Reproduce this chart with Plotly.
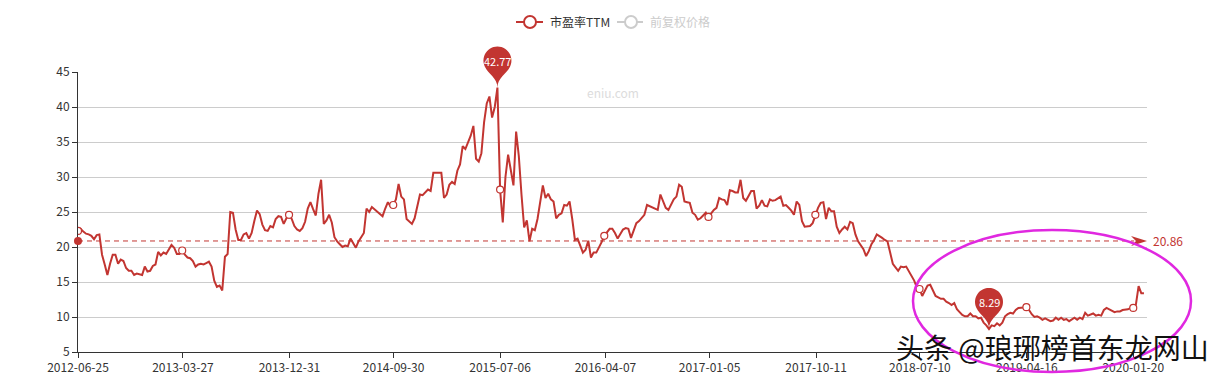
import math
import pandas as pd
import plotly.graph_objects as go

# ---------------- data (weekly samples) ----------------
start_date = "2012-06-25"
x_end = "2020-02-25"
y_min, y_max = 5, 45

pe_2012_2014 = [
    22.3, 22.6, 22.2, 21.9, 21.8, 21.6, 21.1, 21.7, 21.8, 18.9,
    17.5, 16.0, 17.6, 18.9, 18.9, 17.6, 18.2, 18.0, 17.0, 16.6,
    16.6, 16.0, 16.2, 16.1, 16.0, 17.2, 16.5, 16.6, 17.3, 17.5,
    19.3, 18.8, 19.2, 19.0, 19.6, 20.3, 19.9, 19.0, 19.0, 19.5,
    18.9, 18.5, 18.4, 18.0, 17.2, 17.5, 17.6, 17.5, 17.7, 17.9,
    17.2, 15.2, 14.3, 14.5, 13.8, 18.6, 19.0, 25.0, 24.9, 22.5,
    21.0, 21.0, 21.8, 22.0, 21.2, 22.0, 23.7, 25.2, 24.7, 23.2,
    22.4, 22.3, 23.0, 22.8, 24.0, 24.4, 24.3, 23.3, 24.1, 24.6,
    24.0, 23.0, 22.5, 22.3, 22.7, 23.6, 25.5, 26.4, 25.4, 24.5,
    27.6, 29.6, 23.3, 23.8, 24.6, 23.5, 21.4, 20.8, 20.4, 20.0,
    20.2, 20.1,
]
pe_2014_2016 = [
    21.2, 20.5, 19.9, 20.8, 21.4, 22.0, 25.5, 25.0, 25.7, 25.4,
    25.1, 24.8, 24.4, 25.5, 26.4, 25.8, 26.0, 26.8, 29.0, 27.2,
    26.8, 24.0, 23.6, 23.3, 24.1, 26.0, 27.5, 27.4, 27.8, 28.2,
    28.0, 30.6, 30.6, 30.6, 30.6, 27.0, 27.5, 28.9, 29.3, 29.0,
    30.9, 31.8, 34.4, 34.0, 35.0, 35.9, 37.3, 32.6, 32.2, 33.4,
    37.8, 40.5, 41.5, 38.5, 40.0, 42.77, 28.2, 23.5, 30.0, 33.2,
    31.0, 28.8, 36.5, 33.0, 27.5, 22.8, 23.8, 20.8, 22.6, 22.4,
    24.0, 26.5, 28.8, 27.0, 27.6, 26.8, 26.5, 24.1, 24.6, 24.8,
    26.0, 25.9, 26.5, 24.0, 21.0, 21.2, 20.2, 19.2, 19.6, 20.9,
    18.5, 19.2, 19.2, 19.9, 20.7, 21.6, 22.2, 22.6, 22.6, 22.0,
    21.2,
]
pe_2016_2018 = [
    21.8, 22.5, 22.7, 22.6, 21.3, 22.5, 23.4, 23.7, 24.2, 24.6,
    26.0, 25.8, 25.6, 25.5, 25.3, 27.5, 26.5, 25.6, 25.3, 26.0,
    26.8, 27.2, 28.9, 28.6, 26.5, 26.4, 26.3, 24.9, 24.6, 23.9,
    24.1, 24.5, 24.9, 24.3, 24.9, 25.3, 25.6, 27.0, 26.8, 26.7,
    26.0, 28.1, 28.0, 27.8, 27.8, 29.6, 27.0, 26.6, 27.3, 28.0,
    28.0, 25.5, 25.9, 26.7, 25.9, 25.8, 26.8, 26.6, 26.7, 27.0,
    27.2, 25.9, 26.0, 25.6, 25.2, 24.6, 26.5, 26.0, 23.7, 22.9,
    23.0, 23.0, 23.4, 24.6, 25.6, 26.3, 26.4, 24.0, 25.6, 25.1,
    25.1, 22.9, 22.0, 22.5, 22.9, 22.5, 23.6, 23.4, 21.8, 20.8,
    20.3, 19.7, 18.7, 19.4, 20.4, 21.0, 21.8, 21.6, 21.3,
]
pe_2018_2020 = [
    21.0, 20.8, 19.2, 17.6, 17.1, 16.6, 17.2, 17.1, 17.2, 16.5,
    15.7, 15.2, 14.2, 14.0, 13.0, 13.7, 14.5, 14.6, 13.7, 13.0,
    12.8, 12.6, 12.6, 12.2, 12.0, 11.7, 12.0, 11.1, 10.7, 10.3,
    10.1, 10.1, 10.5, 10.1, 10.1, 9.8, 9.9, 9.2, 8.8, 8.29,
    8.8, 8.7, 9.1, 8.8, 9.2, 10.1, 10.4, 10.6, 10.5, 11.0,
    11.3, 11.3, 11.3, 11.4, 11.0, 10.4, 10.0, 10.1, 9.9, 9.6,
    9.8, 9.6, 9.4, 9.5, 9.9, 9.6, 9.9, 9.6, 9.7, 9.4,
    9.6, 9.9, 9.6, 9.9, 9.7, 10.6, 10.2, 10.3, 10.5, 10.2,
    10.3, 10.2, 11.0, 11.3, 11.1, 10.8, 10.7, 10.8, 10.8, 11.0,
    11.0, 11.1, 11.3, 11.3, 11.8, 14.4, 13.4, 13.4,
]
pe_ttm = pe_2012_2014 + pe_2014_2016 + pe_2016_2018 + pe_2018_2020
dates = pd.date_range(start_date, periods=len(pe_ttm), freq="7D")

tick_labels = ["2012-06-25", "2013-03-27", "2013-12-31", "2014-09-30",
               "2015-07-06", "2016-04-07", "2017-01-05", "2017-10-11",
               "2018-07-10", "2019-04-16", "2020-01-20"]
avg_value = 20.86
series_names = ["市盈率TTM", "前复权价格"]
watermark = "eniu.com"
toutiao_text = "头条 @琅琊榜首东龙网山"

# ---------------- layout geometry ----------------
RED = "#c23531"
PAGE_OFF = 8                      # default body margin of the html page
W, H = 1224 - PAGE_OFF, 375 - PAGE_OFF
PL, PR, PT, PB = 78, 1147, 72, 352   # plot area on the page
L, T = PL - PAGE_OFF, PT - PAGE_OFF
R, B = (PAGE_OFF + W) - PR, (PAGE_OFF + H) - PB
PW, PH = PR - PL, PB - PT
FONT = "Microsoft YaHei, Noto Sans CJK SC, sans-serif"


def px_x(px):
    return (px - PL) / PW


def px_y(py):
    return (PB - py) / PH


def y_frac(v):
    return (v - y_min) / (y_max - y_min)


fig = go.Figure()

fig.add_trace(go.Scatter(x=dates, y=pe_ttm, mode="lines",
                         line=dict(color=RED, width=2), showlegend=False,
                         name=series_names[0]))

# hollow symbols at labelled ticks
tick_ts = pd.to_datetime(tick_labels)
sym_x, sym_y = [], []
for t in tick_ts:
    i = int(abs(dates - t).argmin())
    sym_x.append(dates[i])
    sym_y.append(pe_ttm[i])
fig.add_trace(go.Scatter(x=sym_x, y=sym_y, mode="markers",
                         marker=dict(size=7, color="white",
                                     line=dict(color=RED, width=1.2)),
                         showlegend=False, hoverinfo="skip"))

shapes = []
annotations = []

# average mark line
shapes.append(dict(type="line", xref="paper", yref="y", x0=0, x1=0.988,
                   y0=avg_value, y1=avg_value,
                   line=dict(color=RED, width=1, dash="5px,4px")))
shapes.append(dict(type="circle", xref="paper", yref="y",
                   xsizemode="pixel", ysizemode="pixel",
                   xanchor=0, yanchor=avg_value, x0=-4, x1=4, y0=-4, y1=4,
                   fillcolor=RED, line=dict(width=0)))
shapes.append(dict(type="path", xref="paper", yref="y",
                   xsizemode="pixel", ysizemode="pixel",
                   xanchor=1, yanchor=avg_value,
                   path="M 0,0 L -16,5 L -11,0 L -16,-5 Z",
                   fillcolor=RED, line=dict(width=0)))
annotations.append(dict(x=1, xref="paper", y=avg_value, yref="y",
                        text=f"{avg_value:.2f}", showarrow=False,
                        xanchor="left", yanchor="middle", xshift=4,
                        font=dict(color=RED, size=12)))


def pin_path(r=14.0, h=47.0, n=28):
    dy = r * r / (h - r)
    c = h - r - dy
    ang = math.asin(dy / r)
    dx = math.cos(ang) * r
    tx, ty = math.sin(ang), math.cos(ang)
    cp, cp2 = r * 0.6, r * 0.7
    pts = []
    for k in range(n + 1):
        th = (math.pi + ang) - (math.pi + 2 * ang) * k / n
        pts.append((r * math.cos(th), c + r * math.sin(th)))
    p = f"M {pts[0][0]:.2f},{pts[0][1]:.2f} "
    for (x, y) in pts[1:]:
        p += f"L {x:.2f},{y:.2f} "
    p += (f"C {dx - tx * cp:.2f},{c - dy - ty * cp:.2f} 0,{cp2:.2f} 0,0 "
          f"C 0,{cp2:.2f} {-dx + tx * cp:.2f},{c - dy - ty * cp:.2f} "
          f"{-dx:.2f},{c - dy:.2f} Z")
    return p, c


pin, pin_c = pin_path()
imax = max(range(len(pe_ttm)), key=lambda i: pe_ttm[i])
imin = min(range(len(pe_ttm)), key=lambda i: pe_ttm[i])
for i in (imax, imin):
    shapes.append(dict(type="path", xref="x", yref="paper",
                       xsizemode="pixel", ysizemode="pixel",
                       xanchor=dates[i], yanchor=y_frac(pe_ttm[i]), path=pin,
                       fillcolor=RED, line=dict(width=0), layer="above"))
    annotations.append(dict(x=dates[i], y=pe_ttm[i], text=f"{pe_ttm[i]:.2f}",
                            showarrow=False, yshift=pin_c,
                            xanchor="center", yanchor="middle",
                            font=dict(color="white", size=11)))

# legend (drawn manually)
leg_y = px_y(22)
for (lx0, lx1, cx, tx, name, col, tcol) in [
        (516, 543, 530, 548, series_names[0], RED, "#333"),
        (617, 643, 631, 648, series_names[1], "#ccc", "#ccc")]:
    shapes.append(dict(type="line", xref="paper", yref="paper",
                       x0=px_x(lx0), x1=px_x(lx1), y0=leg_y, y1=leg_y,
                       line=dict(color=col, width=2)))
    shapes.append(dict(type="circle", xref="paper", yref="paper",
                       xsizemode="pixel", ysizemode="pixel",
                       xanchor=px_x(cx), yanchor=leg_y,
                       x0=-6, x1=6, y0=-6, y1=6,
                       fillcolor="white", line=dict(color=col, width=2)))
    annotations.append(dict(x=px_x(tx), y=leg_y, xref="paper", yref="paper",
                            text=name, showarrow=False, xanchor="left",
                            yanchor="middle", font=dict(color=tcol, size=12)))

# watermark
annotations.append(dict(x=px_x(613), y=px_y(92), xref="paper", yref="paper",
                        text=watermark, showarrow=False,
                        xanchor="center", yanchor="middle",
                        font=dict(color="#dcdcdc", size=12)))

# hand-drawn ellipse and overlay text
shapes.append(dict(type="circle", xref="paper", yref="paper",
                   x0=px_x(913), x1=px_x(1191), y0=px_y(372), y1=px_y(230),
                   line=dict(color="#e028e0", width=2.5)))
annotations.append(dict(x=px_x(1052), y=px_y(347), xref="paper", yref="paper",
                        text=toutiao_text, showarrow=False,
                        xanchor="center", yanchor="middle",
                        font=dict(color="#111", size=28,
                                  family="Noto Sans CJK SC")))

fig.update_layout(
    width=W, height=H,
    margin=dict(l=L, r=R, t=T, b=B, pad=0),
    paper_bgcolor="white", plot_bgcolor="white",
    font=dict(family=FONT, size=12, color="#333"),
    showlegend=False,
    shapes=shapes, annotations=annotations,
    xaxis=dict(type="date", range=[start_date, x_end], automargin=False,
               tickvals=tick_labels, ticktext=tick_labels,
               showgrid=False, showline=True, linecolor="#333", linewidth=1,
               ticks="outside", ticklen=5, tickcolor="#333",
               tickfont=dict(size=12, color="#333"), zeroline=False),
    yaxis=dict(range=[y_min, y_max], tick0=5, dtick=5, automargin=False,
               showgrid=True, gridcolor="#ccc", gridwidth=1,
               showline=True, linecolor="#333", linewidth=1,
               ticks="outside", ticklen=5, tickcolor="#333",
               tickfont=dict(size=12, color="#333"), zeroline=False),
)

fig.write_html("out.html")
